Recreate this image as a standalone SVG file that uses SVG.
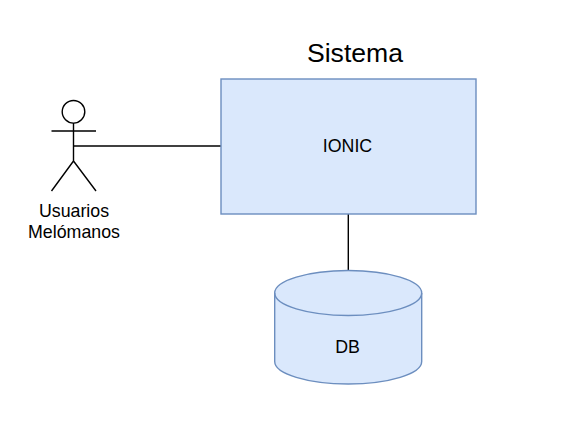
<svg xmlns="http://www.w3.org/2000/svg" width="570" height="427" viewBox="0 0 570 427">
<style>
text{font-family:"Liberation Sans",Arial,sans-serif;text-anchor:middle;fill:#000}
.s{fill:#dae8fc;stroke:#6c8ebf;stroke-width:1.4}
.l{fill:none;stroke:#000;stroke-width:1.4}
.t{font-size:17.8px}
</style>
<rect width="570" height="427" fill="#fff"/>
<g id="connectors">
<path class="l" d="M73.500 146H221"/>
<path class="l" d="M348.300 214V271"/>
</g>
<g id="actor">
<circle class="l" cx="73.500" cy="111.800" r="11.300"/>
<path class="l" d="M73.500 123V161M51.500 131H96M73.500 161L51.500 191M73.500 161L96 191"/>
<text class="t" x="74" y="216.500">Usuarios</text>
<text class="t" x="74" y="238">Melómanos</text>
</g>
<g id="title"><text x="355" y="61.500" font-size="26.600px">Sistema</text></g>
<g id="ionic">
<rect class="s" x="221" y="79" width="255" height="135"/>
<text class="t" x="347.500" y="151.500">IONIC</text>
</g>
<g id="db">
<path class="s" d="M274.700 293A73.500 22.500 0 0 1 421.700 293V361.500A73.500 22.500 0 0 1 274.700 361.500Z"/>
<path class="s" fill="none" style="fill:none" d="M274.700 293A73.500 22.500 0 0 0 421.700 293"/>
<text class="t" x="347.500" y="352.500">DB</text>
</g>
</svg>
